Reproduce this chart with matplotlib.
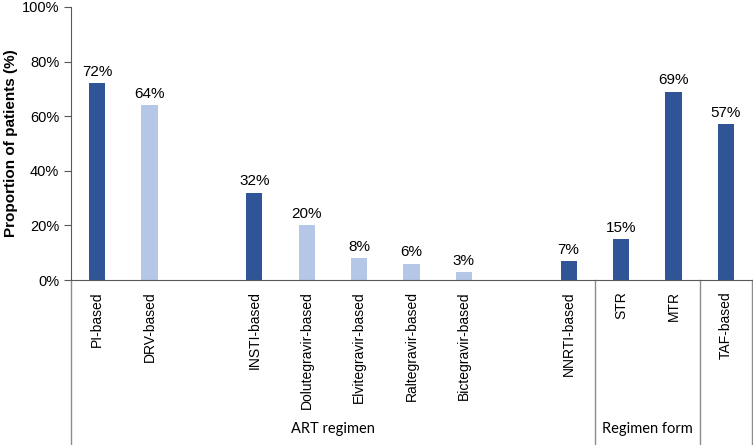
import matplotlib.pyplot as plt
import matplotlib.transforms as mtransforms
import numpy as np

# categories ('' = empty slot), values in %
categories = ['PI-based', 'DRV-based', '', 'INSTI-based', 'Dolutegravir-based',
              'Elvitegravir-based', 'Raltegravir-based', 'Bictegravir-based', '',
              'NNRTI-based', 'STR', 'MTR', 'TAF-based']
values = [72, 64, np.nan, 32, 20, 8, 6, 3, np.nan, 7, 15, 69, 57]
is_sub = [False, True, False, False, True, True, True, True, False, False, False, False, False]

groups = ['ART regimen', 'Regimen form', '']
group_sizes = [10, 2, 1]

dark = '#2F5597'
light = '#B4C7E7'
axis_col = '#595959'
sep_col = '#8C8C8C'

plt.rcParams['font.family'] = ['Liberation Sans', 'DejaVu Sans']

fig = plt.figure(figsize=(7.53, 4.45), dpi=100)
ax = fig.add_axes([71 / 753, (445 - 280) / 445, (752 - 71) / 753, 273 / 445])

x = np.arange(len(categories))
cols = [light if s else dark for s in is_sub]
bars = ax.bar(x, values, width=0.31, color=cols, zorder=2)

for xi, v in zip(x, values):
    if np.isnan(v):
        continue
    ax.annotate(f'{v:.0f}%', (xi, v), xytext=(0, 3), textcoords='offset points',
                ha='center', va='bottom', fontsize=11, color='black')

ax.set_xlim(-0.5, len(categories) - 0.5)
ax.set_ylim(0, 100)
ax.set_yticks(np.arange(0, 101, 20))
ax.set_yticklabels([f'{t}%' for t in range(0, 101, 20)], fontsize=10.5)
ax.set_ylabel('Proportion of patients (%)', fontsize=11, fontweight='bold', labelpad=3)

ax.set_xticks(x)
ax.set_xticklabels(categories, rotation=90, fontsize=10, va='top', ha='center')
ax.tick_params(axis='x', length=0, pad=8)
ax.tick_params(axis='y', direction='out', length=5, color=axis_col, width=0.8)

for s in ['top', 'right']:
    ax.spines[s].set_visible(False)
ax.spines['left'].set_color(axis_col)
ax.spines['bottom'].set_color(axis_col)
ax.spines['left'].set_linewidth(0.8)
ax.spines['bottom'].set_linewidth(0.8)

# group separators and labels below the axis
trans = mtransforms.blended_transform_factory(ax.transData, fig.transFigure)
ybot = ax.get_position().y0
edges = np.concatenate([[-0.5], -0.5 + np.cumsum(group_sizes)])
for e in edges:
    ax.plot([e, e], [0, ybot], transform=trans, color=sep_col, lw=1, clip_on=False)
for g, a, b in zip(groups, edges[:-1], edges[1:]):
    if g:
        ax.text((a + b) / 2, 16 / 445, g, transform=trans, ha='center', va='center',
                fontsize=10.5, family=['Lato', 'DejaVu Sans'])

fig.savefig('out.png', dpi=100)
